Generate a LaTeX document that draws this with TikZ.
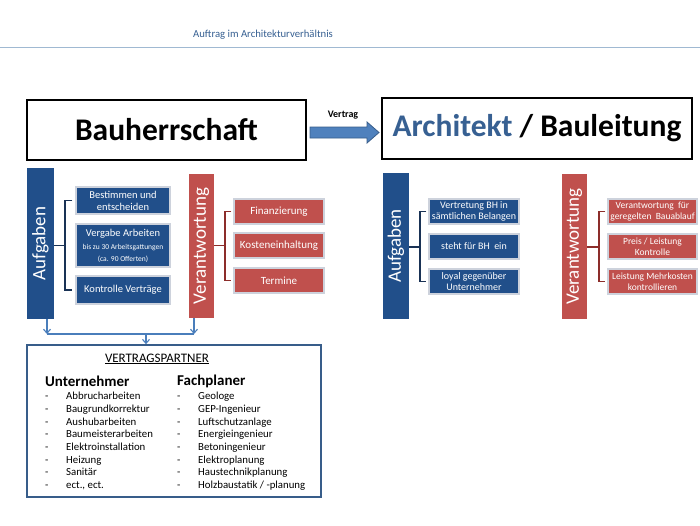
\documentclass[tikz,border=0pt]{standalone}
\usepackage{fontspec}
\setmainfont{Carlito}
\usetikzlibrary{arrows.meta}
\definecolor{dblue}{RGB}{33,79,138}
\definecolor{tblue}{RGB}{55,96,146}
\definecolor{dred}{RGB}{192,80,77}
\definecolor{bred}{RGB}{140,45,42}
\definecolor{bblue}{RGB}{25,50,85}
\definecolor{ablue}{RGB}{74,126,187}
\definecolor{rule}{RGB}{160,185,210}
\definecolor{vpblue}{RGB}{56,93,138}
\definecolor{afill}{RGB}{79,129,189}
\tikzset{
  bigbox/.style={draw=black, line width=1.3pt, inner sep=0pt},
  bar/.style={inner sep=0pt},
  bartext/.style={inner sep=0pt, text=white, font=\fontsize{19}{20}\selectfont, rotate=90},
  bluebar/.style={bar, fill=dblue},
  redbar/.style={bar, fill=dred},
  item/.style={draw={rgb,255:red,205;green,210;blue,220}, line width=1.1pt, inner sep=0pt, text=white, align=center},
  bitem/.style={item, fill=dblue},
  ritem/.style={item, fill=dred},
  bbr/.style={draw=bblue, line width=1.6pt},
  rbr/.style={draw=bred, line width=1.6pt},
  conn/.style={draw=ablue, line width=1.1pt},
  arr/.style={conn, -{Straight Barb[length=4pt,width=7pt]}},
  listfont/.style={font=\fontsize{10.8}{12.7}\selectfont},
}
\begin{document}
\begin{tikzpicture}[x=1pt,y=-1pt]
\useasboundingbox[fill=white] (0,0) rectangle (700,525);
% title
\node[text=tblue, font=\fontsize{10.7}{12}\selectfont] (title) at (263,35) {Auftrag im Architekturverhältnis};
\coordinate (ra) at (0,47);
\coordinate (rb) at (700,47);
\draw[rule, line width=0.9pt] (ra) -- (rb);
% top boxes
\node[bigbox, minimum width=279, minimum height=60, font=\bfseries\fontsize{31.5}{33}\selectfont] (bh) at (166.5,130) {Bauherrschaft};
\node[bigbox, minimum width=310, minimum height=61, font=\bfseries\fontsize{31.5}{33}\selectfont] (ab) at (537,128.5) {\textcolor{tblue}{Architekt} / Bauleitung};
% Vertrag arrow
\coordinate (vs) at (310,132);
\filldraw[fill=afill, draw=vpblue, line width=0.8pt] (vs) ++(0,-5) -- ++(57,0) -- ++(0,-5) -- ++(12,10.5) -- ++(-12,10.5) -- ++(0,-5) -- ++(-57,0) -- cycle;
\node[font=\bfseries\fontsize{10}{12}\selectfont] (vl) at (343,115) {Vertrag};
% left group
\node[bluebar, minimum width=27, minimum height=151] (aufL) at (40.5,243.5) {};
\node[bartext] (aufLt) at (aufL.center) {Aufgaben};
\node[bitem, minimum width=94, minimum height=27, font=\fontsize{10.5}{12}\selectfont] (b1) at (123,200.5) {Bestimmen und\\entscheiden};
\node[bitem, minimum width=94, minimum height=43] (b2) at (123,245.5) {{\fontsize{10.5}{13}\selectfont Vergabe Arbeiten}\\[1pt]{\fontsize{7.5}{9}\selectfont bis zu 30 Arbeitsgattungen}\\{\fontsize{7.5}{9}\selectfont (ca. 90 Offerten)}};
\node[bitem, minimum width=94, minimum height=28, font=\fontsize{10.5}{12}\selectfont] (b3) at (123,290) {Kontrolle Verträge};
\coordinate (k1) at (65,245.5);
\draw[bbr] ([xshift=-3]b1.west) -| (k1) |- ([xshift=-3]b3.west);
\draw[bbr] (k1 -| aufL.east) -- (k1);
\node[redbar, minimum width=25, minimum height=144] (verL) at (201.5,246) {};
\node[bartext] (verLt) at (verL.center) {Verantwortung};
\node[ritem, minimum width=90, minimum height=25, font=\fontsize{11}{13}\selectfont] (r1) at (279,211.5) {Finanzierung};
\node[ritem, minimum width=90, minimum height=25, font=\fontsize{11}{13}\selectfont] (r2) at (279,245.5) {Kosteneinhaltung};
\node[ritem, minimum width=90, minimum height=25, font=\fontsize{11}{13}\selectfont] (r3) at (279,280.5) {Termine};
\coordinate (k2) at (225,245.5);
\draw[rbr] ([xshift=-2]r1.west) -| (k2) |- ([xshift=-2]r3.west);
\draw[rbr] (k2 -| verL.east) -- (k2);
% right group
\node[bluebar, minimum width=26, minimum height=146] (aufR) at (396,246) {};
\node[bartext] (aufRt) at (aufR.center) {Aufgaben};
\node[bitem, minimum width=90, minimum height=25, font=\fontsize{10}{11.5}\selectfont] (c1) at (474,211.5) {Vertretung BH in\\sämtlichen Belangen};
\node[bitem, minimum width=90, minimum height=25, font=\fontsize{10}{11.5}\selectfont] (c2) at (474,246.5) {steht für BH\ \ ein};
\node[bitem, minimum width=90, minimum height=25, font=\fontsize{10}{11.5}\selectfont] (c3) at (474,281.5) {loyal gegenüber\\Unternehmer};
\coordinate (k3) at (420,247);
\draw[bbr] ([xshift=-2]c1.west) -| (k3) |- ([xshift=-2]c3.west);
\draw[bbr] (k3 -| aufR.east) -- (k3);
\node[redbar, minimum width=25, minimum height=145] (verR) at (574.5,246.5) {};
\node[bartext] (verRt) at (verR.center) {Verantwortung};
\node[ritem, minimum width=89, minimum height=25, font=\fontsize{9.5}{11}\selectfont] (d1) at (652.5,211.5) {Verantwortung\ \ für\\geregelten\ \ Bauablauf};
\node[ritem, minimum width=89, minimum height=25, font=\fontsize{9.5}{11}\selectfont] (d2) at (652.5,246.5) {Preis / Leistung\\Kontrolle};
\node[ritem, minimum width=89, minimum height=25, font=\fontsize{9.5}{11}\selectfont] (d3) at (652.5,281.5) {Leistung Mehrkosten\\kontrollieren};
\coordinate (k4) at (599,247);
\draw[rbr] ([xshift=-2]d1.west) -| (k4) |- ([xshift=-2]d3.west);
\draw[rbr] (k4 -| verR.east) -- (k4);
% Vertragspartner
\node[draw=vpblue, line width=1.6pt, minimum width=294, minimum height=152, inner sep=0pt] (vp) at (174,421) {};
\coordinate (j1) at (47,334);
\coordinate (j2) at (194,334);
\coordinate (j3) at (146,334);
\draw[arr] (aufL.south -| j1) -- (j1);
\draw[arr] (verL.south -| j2) -- (j2);
\draw[conn] (j1) -- (j2);
\draw[arr] (j3) -- (vp.north -| j3);
\node[font=\fontsize{13}{15}\selectfont] (vph) at (157,359) {\underline{VERTRAGSPARTNER}};
\node[anchor=west, inner sep=0pt, font=\bfseries\fontsize{15}{17}\selectfont] (uh) at (45,381) {Unternehmer};
\node[anchor=west, inner sep=0pt, font=\bfseries\fontsize{15}{17}\selectfont] (fh) at (177,381) {Fachplaner};
\node[anchor=north west, inner sep=0pt, listfont] (ul) at (45,390.6) {%
\begin{tabular}{@{}p{21pt}@{}l@{}}
- & Abbrucharbeiten\\
- & Baugrundkorrektur\\
- & Aushubarbeiten\\
- & Baumeisterarbeiten\\
- & Elektroinstallation\\
- & Heizung\\
- & Sanitär\\
- & ect., ect.
\end{tabular}};
\node[anchor=north west, inner sep=0pt, listfont] (fl) at (177,390.6) {%
\begin{tabular}{@{}p{21pt}@{}l@{}}
- & Geologe\\
- & GEP-Ingenieur\\
- & Luftschutzanlage\\
- & Energieingenieur\\
- & Betoningenieur\\
- & Elektroplanung\\
- & Haustechnikplanung\\
- & Holzbaustatik / -planung
\end{tabular}};
\end{tikzpicture}
\end{document}
